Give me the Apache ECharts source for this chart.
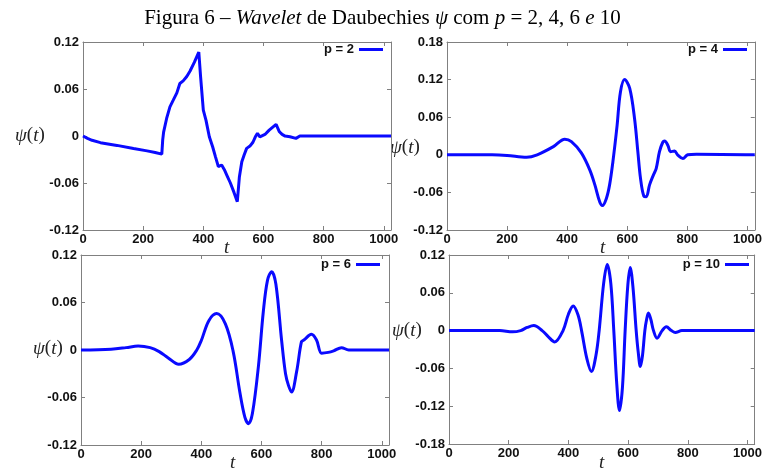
<!DOCTYPE html>
<html>
<head>
<meta charset="utf-8">
<script src="https://cdn.jsdelivr.net/npm/echarts@6/dist/echarts.min.js"></script>
<style>
  html, body { margin: 0; padding: 0; background: #fff; }
  #chart { width: 765px; height: 470px; }
</style>
</head>
<body>
<div id="chart"></div>
<script>
// Daubechies wavelet psi(t), sampled on t = 0..1024, for p = 2, 4, 6, 10
const t2 = [0, 15, 30, 58, 113, 168, 213, 240, 262, 265, 268, 278, 289, 300, 312, 322, 333, 345, 356, 370,
            385, 391, 400, 409, 420, 431, 440, 450, 461, 470, 478, 490, 502, 513, 520, 528, 536, 544, 555, 565,
            573, 580, 588, 605, 619, 630, 642, 653, 662, 672, 688, 708, 721, 754, 800, 1024];
const psi2 = [0, -0.003, -0.0055, -0.0085, -0.012, -0.016, -0.019, -0.021, -0.0231, -0.005, 0.005, 0.0224, 0.0372, 0.0457, 0.055, 0.067, 0.0703, 0.076, 0.083, 0.094,
              0.107, 0.0754, 0.033, 0.020, -0.001, -0.0137, -0.026, -0.039, -0.037, -0.043, -0.0498, -0.060, -0.072, -0.0838, -0.052, -0.0329, -0.024, -0.0158, -0.0129, -0.008,
              -0.001, 0.0033, -0.001, 0.002, 0.0075, 0.011, 0.0148, 0.0054, 0.002, -0.0001, -0.001, -0.003, 0, 0, 0, 0];

const t4 = [0, 150, 200, 265, 300, 354, 392, 414, 447, 475, 492, 508, 517, 530, 541, 552, 566, 577, 591, 608,
            624, 635, 644, 655, 663, 674, 687, 696, 707, 718, 724, 735, 744, 757, 768, 785, 801, 830, 1024];
const psi4 = [0, 0, -0.001, -0.004, 0, 0.013, 0.025, 0.021, 0.003, -0.024, -0.048, -0.075, -0.081, -0.070, -0.048, -0.011, 0.047, 0.100, 0.120, 0.106,
              0.058, 0.005, -0.038, -0.066, -0.067, -0.048, -0.032, -0.022, 0.005, 0.020, 0.022, 0.015, 0.005, 0.006, -0.0005, -0.006, 0, 0.001, 0];

const t6 = [0, 100, 150, 190, 230, 260, 290, 325, 360, 385, 400, 425, 451, 480, 506, 528, 545, 557, 570, 590,
            606, 620, 634, 648, 667, 680, 690, 700, 717, 733, 741, 766, 783, 800, 822, 840, 866, 890, 1024];
const psi6 = [0, 0.001, 0.003, 0.005, 0.003, -0.002, -0.010, -0.018, -0.012, 0, 0.012, 0.037, 0.046, 0.033, -0.002, -0.053, -0.085, -0.093, -0.080, -0.020,
              0.048, 0.088, 0.099, 0.083, 0.012, -0.030, -0.045, -0.053, -0.027, 0.0105, 0.0126, 0.0198, 0.0126, -0.004, -0.003, -0.001, 0.003, 0, 0];

const t10 = [0, 170, 213, 240, 262, 284, 312, 333, 354, 382, 400, 416, 432, 444, 462, 477, 492, 503, 518, 530,
             542, 552, 562, 571, 581, 590, 599, 607, 616, 627, 634, 641, 648, 656, 662, 668, 676, 685, 697, 714,
             728, 745, 758, 780, 1024];
const psi10 = [0, 0, -0.002, 0, 0.005, 0.008, 0, -0.010, -0.018, 0, 0.026, 0.039, 0.025, 0, -0.045, -0.065, -0.040, 0, 0.075, 0.105,
               0.075, 0, -0.085, -0.127, -0.090, 0, 0.072, 0.100, 0.070, 0, -0.035, -0.057, -0.040, 0, 0.018, 0.028, 0.018, 0, -0.012, 0,
               0.006, 0, -0.003, 0, 0];

const seriesNames = ['p = 2', 'p = 4', 'p = 6', 'p = 10'];
const yMins = [-0.12, -0.12, -0.12, -0.18];
const yMaxs = [0.12, 0.18, 0.12, 0.12];
const tMax = 1024;
const tStep = 200;
const psiStep = 0.06;

const panels = [
  { t: t2, psi: psi2, smooth: false },
  { t: t4, psi: psi4, smooth: 0.35 },
  { t: t6, psi: psi6, smooth: 0.35 },
  { t: t10, psi: psi10, smooth: 0.35 }
];

const grids = [
  { left: 83, top: 42, width: 308, height: 188 },
  { left: 447, top: 42, width: 309, height: 188 },
  { left: 81, top: 255, width: 308, height: 190 },
  { left: 449, top: 255, width: 310, height: 189 }
];

const legendPos = [
  { right: 382, top: 43 },
  { right: 18, top: 43 },
  { right: 385, top: 258 },
  { right: 16, top: 258 }
];

const yNamePos = [[15, 136], [390, 148], [33, 349], [392, 331]];
const xNamePos = [[227, 247], [603, 247], [233, 462], [602, 462]];

const frame = '#808080';
const labelFont = { fontFamily: 'Liberation Sans, Arial, sans-serif', fontWeight: 'bold', fontSize: 13, color: '#111' };
const serif = 'Liberation Serif, Times New Roman, serif';

const xAxes = [], yAxes = [], series = [], legends = [], graphics = [];

function frameAxis(extra) {
  return Object.assign({
    type: 'value',
    axisLine: { show: true, onZero: false, lineStyle: { color: frame, width: 1 } },
    axisTick: { show: true, inside: true, length: 4, lineStyle: { color: frame } },
    splitLine: { show: false }
  }, extra);
}

panels.forEach((p, i) => {
  // bottom axis with labels, top mirror with ticks only
  xAxes.push(frameAxis({
    gridIndex: i, position: 'bottom', min: 0, max: tMax, interval: tStep,
    axisLabel: Object.assign({ margin: 3, showMaxLabel: false,
      formatter: v => (v % tStep === 0 ? String(v) : '') }, labelFont)
  }));
  xAxes.push(frameAxis({
    gridIndex: i, position: 'top', min: 0, max: tMax, interval: tStep,
    axisLabel: { show: false }
  }));
  // left axis with labels, right mirror with ticks only
  yAxes.push(frameAxis({
    gridIndex: i, position: 'left', min: yMins[i], max: yMaxs[i], interval: psiStep,
    axisLabel: Object.assign({ margin: 4, formatter: v => String(+v.toFixed(2)) }, labelFont)
  }));
  yAxes.push(frameAxis({
    gridIndex: i, position: 'right', min: yMins[i], max: yMaxs[i], interval: psiStep,
    axisLabel: { show: false }
  }));

  series.push({
    name: seriesNames[i], type: 'line',
    xAxisIndex: 2 * i, yAxisIndex: 2 * i,
    data: p.t.map((t, k) => [t, p.psi[k]]),
    smooth: p.smooth, showSymbol: false, symbol: 'none',
    lineStyle: { color: '#0a0aff', width: 3 },
    itemStyle: { color: '#0a0aff' },
    animation: false
  });

  legends.push({
    data: [seriesNames[i]], right: legendPos[i].right, top: legendPos[i].top,
    padding: 0, align: 'right', icon: 'rect', itemWidth: 24, itemHeight: 3,
    textStyle: Object.assign({}, labelFont),
    selectedMode: false
  });

  graphics.push({
    type: 'text', left: yNamePos[i][0], top: yNamePos[i][1] - 10,
    style: {
      text: '{a|ψ}{b|(}{a|t}{b|)}',
      rich: {
        a: { fontFamily: serif, fontStyle: 'italic', fontSize: 19, fill: '#222' },
        b: { fontFamily: serif, fontSize: 19, fill: '#222' }
      }
    }
  });
  graphics.push({
    type: 'text', left: xNamePos[i][0] - 3, top: xNamePos[i][1] - 9,
    style: { text: 't', fontFamily: serif, fontStyle: 'italic', fontSize: 19, fill: '#222' }
  });
});

const chart = echarts.init(document.getElementById('chart'), null, { renderer: 'canvas' });
chart.setOption({
  backgroundColor: '#fff',
  animation: false,
  title: {
    left: 'center', top: 3,
    text: '{n|Figura 6 – }{i|Wavelet}{n| de Daubechies }{i|ψ}{n| com }{i|p}{n| = 2, 4, 6 }{i|e}{n| 10}',
    textStyle: {
      fontWeight: 'normal',
      rich: {
        n: { fontFamily: serif, fontWeight: 'normal', fontSize: 21, color: '#000' },
        i: { fontFamily: serif, fontWeight: 'normal', fontStyle: 'italic', fontSize: 21, color: '#000' }
      }
    }
  },
  grid: grids,
  xAxis: xAxes,
  yAxis: yAxes,
  legend: legends,
  series: series,
  graphic: graphics
});
</script>
</body>
</html>
